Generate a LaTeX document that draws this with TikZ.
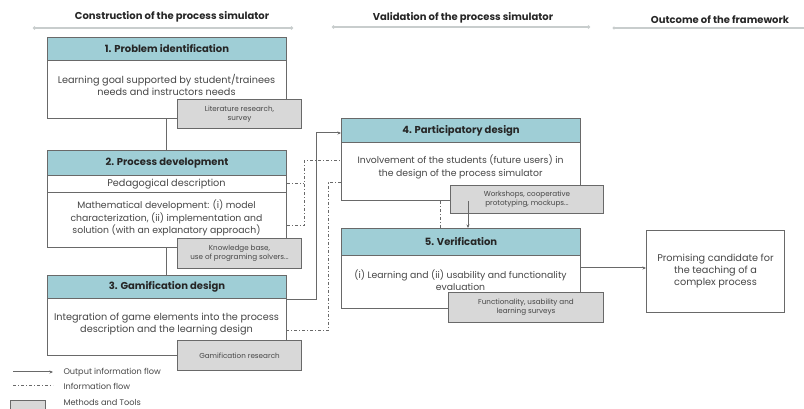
\documentclass[tikz,border=0pt]{standalone}
\usepackage{fontspec}
\setmainfont{Poppins}
\usepackage{tikz}
\usetikzlibrary{arrows.meta,positioning,calc}

\definecolor{headblue}{RGB}{159,206,214}
\definecolor{toolgray}{RGB}{216,216,216}
\definecolor{edgegray}{RGB}{105,105,105}
\definecolor{txtgray}{RGB}{70,70,70}
\definecolor{rulegray}{RGB}{200,205,205}

\begin{document}
\begin{tikzpicture}[x=1pt, y=1pt,
    stage/.style={rectangle, draw=edgegray, line width=1pt, fill=white, minimum width=239pt, anchor=north west, inner sep=0pt},
    stagehead/.style={rectangle, draw=edgegray, line width=1pt, fill=headblue, minimum width=239pt, anchor=north west, font=\fontsize{10}{11}\selectfont\bfseries, text=black!85},
    stagetext/.style={align=center, font=\fontsize{9.3}{12.3}\selectfont, text=txtgray},
    bigtext/.style={stagetext, font=\fontsize{9.7}{12}\selectfont},
    tool/.style={rectangle, draw=edgegray, line width=1pt, fill=toolgray, anchor=north west, align=center, font=\fontsize{7.2}{9}\selectfont, text=txtgray},
    section/.style={font=\fontsize{10}{11}\selectfont\bfseries, text=black!85},
    sectionrule/.style={rulegray, line width=1.3pt, {Circle[length=3pt]}-{Circle[length=3pt]}},
    outflow/.style={edgegray, line width=1pt, -{Stealth[length=3.5pt, width=3pt]}},
    linkflow/.style={edgegray, line width=1pt},
    infoflow/.style={edgegray, line width=1pt, dash pattern=on 3pt off 2pt on 1pt off 2pt},
    legendtext/.style={anchor=west, font=\fontsize{8.2}{9}\selectfont, text=txtgray}]

    \useasboundingbox (0,0) rectangle (804,409);

    % Phase headings
    \node[section] (hcon) at (172,392) {Construction of the process simulator};
    \node[section] (hval) at (463,391) {Validation of the process simulator};
    \node[section] (hout) at (720,389) {Outcome of the framework};
    \draw[sectionrule] (33,381) -- (293,381);
    \draw[sectionrule] (332,382) -- (590,382);
    \draw[sectionrule, -] (614,381) -- (804,381);
    \fill[rulegray] (614,381) circle (1.6pt);

    % 1. Problem identification
    \node[stage, minimum height=81pt] (b1) at (47,372) {};
    \node[stagehead, minimum height=23pt] (b1h) at (b1.north west) {1. Problem identification};
    \node[bigtext] (b1t) at (166.5,324) {Learning goal supported by student/trainees\\needs and instructors needs};
    \node[tool, minimum width=124pt, minimum height=29pt] (t1) at (177,310) {Literature research,\\survey};

    % 2. Process development
    \node[stage, minimum height=97pt] (b2) at (47,259) {};
    \node[stagehead, minimum height=25pt] (b2h) at (b2.north west) {2. Process development};
    \node[bigtext] (b2p) at (166.5,225) {Pedagogical description};
    \draw[edgegray, line width=1pt] (47,216) -- (286,216);
    \node[stagetext] (b2m) at (166.5,191) {Mathematical development: (i) model\\characterization, (ii) implementation and\\solution (with an explanatory approach)};
    \node[tool, minimum width=124pt, minimum height=30pt] (t2) at (177,171) {Knowledge base,\\use of programing solvers...};

    % 3. Gamification design
    \node[stage, minimum height=80pt] (b3) at (47,134) {};
    \node[stagehead, minimum height=23pt] (b3h) at (b3.north west) {3. Gamification design};
    \node[bigtext] (b3t) at (166.5,85) {Integration of game elements into the process\\description and the learning design};
    \node[tool, minimum width=124pt, minimum height=30pt] (t3) at (177,69) {Gamification research};

    % 4. Participatory design
    \node[stage, minimum height=82pt] (b4) at (341,291) {};
    \node[stagehead, minimum height=24pt] (b4h) at (b4.north west) {4. Participatory design};
    \node[stagetext] (b4t) at (460.5,242) {Involvement of the students (future users) in\\the design of the process simulator};
    \node[tool, minimum width=153pt, minimum height=28pt] (t4) at (450,224) {Workshops, cooperative\\prototyping, mockups...};

    % 5. Verification
    \node[stage, minimum height=80pt] (b5) at (341,181) {};
    \node[stagehead, minimum height=27pt] (b5h) at (b5.north west) {5. Verification};
    \node[stagetext] (b5t) at (460.5,129) {(i) Learning and (ii) usability and functionality\\evaluation};
    \node[tool, minimum width=155pt, minimum height=30pt] (t5) at (448,117) {Functionality, usability and\\learning surveys};

    % Outcome
    \node[stage, minimum width=138pt, minimum height=82pt] (res) at (646,179) {};
    \node[bigtext] (rest) at (res.center) {Promising candidate for\\the teaching of a\\complex process};

    % Output information flow
    \draw[linkflow] (b1.south -| 166,0) -- (b2.north -| 166,0);
    \draw[linkflow] (b2.south -| 166,0) -- (b3.north -| 166,0);
    \draw[outflow] (b3.east |- 0,109) -- (316,109) |- (b4.west |- 0,276);
    \draw[outflow] (b4.south -| 468,0) -- (b5.north -| 468,0);
    \draw[outflow] (b5.east |- 0,141) -- (res.west |- 0,141);

    % Information flow
    \draw[infoflow] (b2.east |- b2p) -- (304,225);
    \draw[infoflow] (b2.east |- 0,183) -- (304,183) -- (304,248) -- (b4.west |- 0,248);
    \draw[infoflow] (b4.west |- 0,226) -- (328,226) -- (328,78) -- (b3.east |- 0,78);
    \draw[infoflow] (b4.south -| 440,0) -- (b5.north -| 440,0);

    % Legend
    \coordinate (l1a) at (13,37);
    \coordinate (l1b) at (53,37);
    \draw[outflow] (l1a) -- (l1b);
    \node[legendtext] (l1) at (60,37) {Output information flow};
    \coordinate (l2a) at (13,23);
    \coordinate (l2b) at (53,23);
    \draw[infoflow] (l2a) -- (l2b);
    \node[legendtext] (l2) at (60,23) {Information flow};
    \node[tool, minimum width=35pt, minimum height=14pt] (l3box) at (10,9) {};
    \node[legendtext] (l3) at (60,6) {Methods and Tools};

\end{tikzpicture}
\end{document}
